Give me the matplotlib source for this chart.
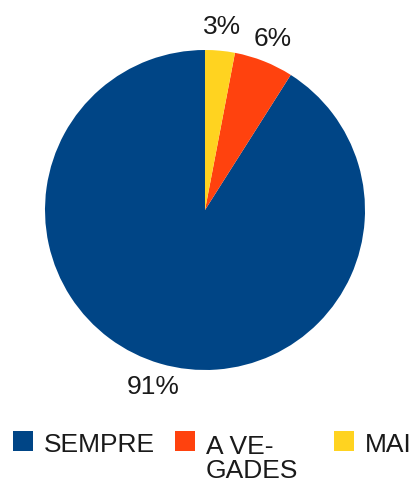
import matplotlib
matplotlib.use('Agg')
import matplotlib.pyplot as plt
from matplotlib.patches import Rectangle

plt.rcParams['font.family'] = ['Liberation Sans', 'DejaVu Sans']

# slices, counter-clockwise starting from the top
categories = ['SEMPRE', 'A VE-\nGADES', 'MAI']
values = [91, 6, 3]
colors = ['#004586', '#ff420e', '#ffd320']

W, H = 415, 484
fig = plt.figure(figsize=(W / 100, H / 100), dpi=100)
ax = fig.add_axes([45 / W, 114 / H, 320 / W, 320 / H])

wedges, texts, autotexts = ax.pie(values, colors=colors, startangle=90,
                                  counterclock=True, radius=1,
                                  autopct=lambda p: '%d%%' % round(p),
                                  pctdistance=1.15,
                                  textprops={'fontsize': 19, 'color': '#1a1a1a'})
ax.set_xlim(-1, 1)
ax.set_ylim(-1, 1)
ax.set_aspect('equal')

# legend drawn by hand so the wrapped label hangs below its square
# (baseline alignment uses the last line, so shift down per extra line)
leg_x = [13, 175, 334]
for x, lab, c in zip(leg_x, categories, colors):
    fig.patches.append(Rectangle((x / W, 1 - 451 / H), 20 / W, 20 / H,
                                 facecolor=c, edgecolor='none',
                                 transform=fig.transFigure))
    base = 452 + 26 * lab.count('\n')
    fig.text((x + 31) / W, 1 - base / H, lab, fontsize=19, color='#1a1a1a',
             ha='left', va='baseline', linespacing=0.98)

fig.savefig('out.png', dpi=100)
